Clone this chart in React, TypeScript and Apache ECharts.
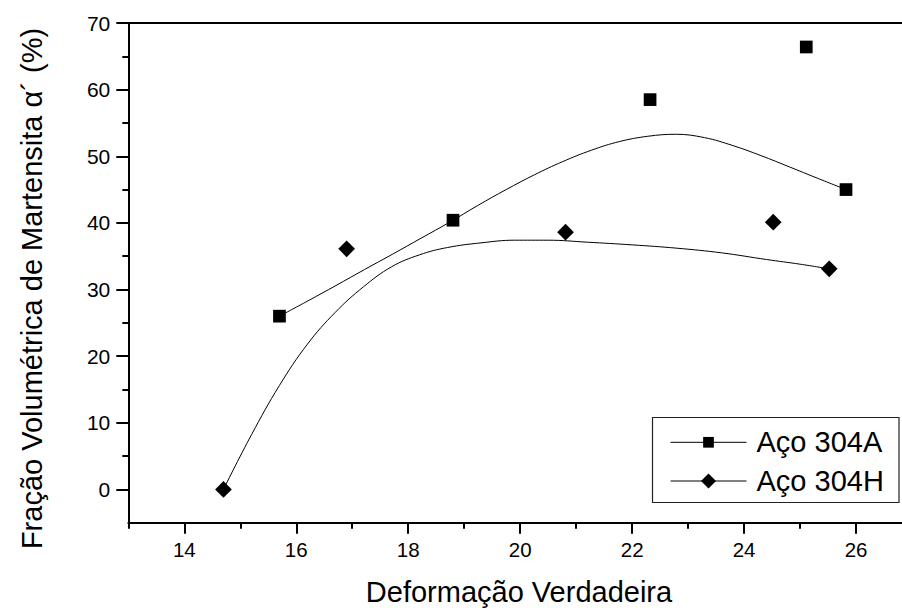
import React, { useEffect, useRef } from "react";
import * as echarts from "echarts";

// Measured points
const aco304A_x = [15.7, 18.8, 22.32, 25.11, 25.82];
const aco304A_y = [26.0, 40.4, 58.5, 66.4, 45.0];
const aco304H_x = [14.7, 16.9, 20.81, 24.52, 25.52];
const aco304H_y = [0.0, 36.1, 38.6, 40.1, 33.1];

// Fitted curves
const fitA_x = [15.7, 16.21, 16.71, 17.22, 17.72, 18.23, 18.74, 19.24, 19.75, 20.25, 20.76, 21.27, 21.77, 22.28, 22.78, 23.29, 23.8, 24.3, 24.81, 25.31, 25.82];
const fitA_y = [26.0, 28.3, 30.6, 33.0, 35.3, 37.7, 40.1, 42.6, 45.0, 47.2, 49.2, 50.9, 52.2, 53.0, 53.3, 52.8, 51.6, 50.1, 48.4, 46.7, 45.0];
const fitH_x = [14.7, 15.2, 15.7, 16.2, 16.7, 17.2, 17.7, 18.2, 18.7, 19.3, 19.9, 20.5, 21.2, 22.0, 22.8, 23.6, 24.4, 25.0, 25.52];
const fitH_y = [0.0, 8.2, 15.6, 21.8, 26.6, 30.4, 33.4, 35.2, 36.3, 37.0, 37.4, 37.4, 37.1, 36.7, 36.2, 35.5, 34.5, 33.8, 33.1];

// Axis ticks
const xMajor = [14, 16, 18, 20, 22, 24, 26];
const xMinor = [13, 15, 17, 19, 21, 23, 25];
const yMajor = [0, 10, 20, 30, 40, 50, 60, 70];
const yMinor = [5, 15, 25, 35, 45, 55, 65];

const FONT = "'Liberation Sans', Arial, sans-serif";

const zip = (xs: number[], ys: number[]) => xs.map((x, i) => [x, ys[i]]);

export default function App() {
  const ref = useRef<HTMLDivElement>(null);
  useEffect(() => {
    if (!ref.current) return;
    const chart = echarts.init(ref.current, undefined, { renderer: "svg" });
    const X_MIN = 13;
    const X_MAX = 26.82;
    const Y_MIN = -5;
    const Y_MAX = 70;
    const axisLine = { show: true, onZero: false, lineStyle: { color: "#000", width: 2 } };
    const noLine = { show: false, onZero: false };
    chart.setOption({
      animation: false,
      backgroundColor: "#fff",
      grid: { left: 128.3, right: 0, top: 23, bottom: 85.3, outerBoundsMode: "none" },
      xAxis: [
        {
          type: "value", position: "bottom", min: X_MIN, max: X_MAX,
          axisLine,
          axisTick: { show: true, length: 11, customValues: xMajor, lineStyle: { color: "#000", width: 2 } },
          axisLabel: { customValues: xMajor, fontSize: 20.5, color: "#000", fontFamily: FONT, margin: 16 },
          splitLine: { show: false },
        },
        {
          type: "value", position: "top", min: X_MIN, max: X_MAX,
          axisLine, axisTick: { show: false }, axisLabel: { show: false }, splitLine: { show: false },
        },
        {
          type: "value", position: "bottom", min: X_MIN, max: X_MAX, offset: 0,
          axisLine: noLine,
          axisTick: { show: true, length: 6, customValues: xMinor, lineStyle: { color: "#000", width: 2 } },
          axisLabel: { show: false }, splitLine: { show: false },
        },
      ],
      yAxis: [
        {
          type: "value", position: "left", min: Y_MIN, max: Y_MAX,
          axisLine,
          axisTick: { show: true, length: 12, customValues: yMajor, lineStyle: { color: "#000", width: 2 } },
          axisLabel: { customValues: yMajor, fontSize: 21, color: "#000", fontFamily: FONT, margin: 18 },
          splitLine: { show: false },
        },
        {
          type: "value", position: "left", min: Y_MIN, max: Y_MAX, offset: 0,
          axisLine: noLine,
          axisTick: { show: true, length: 6, customValues: yMinor, lineStyle: { color: "#000", width: 2 } },
          axisLabel: { show: false }, splitLine: { show: false },
        },
      ],
      legend: [
        {
          data: ["Aço 304A"], orient: "vertical", left: 670, top: 427.8, padding: 0,
          itemWidth: 76, itemHeight: 13.4,
          textStyle: { fontSize: 29, color: "#000", fontFamily: FONT, padding: [0, 0, 0, 5] },
          lineStyle: { color: "#000", width: 1, opacity: 1 },
          itemStyle: { color: "#000" },
        },
        {
          data: ["Aço 304H"], orient: "vertical", left: 670, top: 466.5, padding: 0,
          itemWidth: 76, itemHeight: 18.7,
          textStyle: { fontSize: 29, color: "#000", fontFamily: FONT, padding: [0, 0, 0, 5] },
          lineStyle: { color: "#000", width: 1, opacity: 1 },
          itemStyle: { color: "#000" },
        },
      ],
      graphic: [
        {
          type: "rect", shape: { x: 652.5, y: 417.5, width: 246.5, height: 85 },
          style: { fill: "none", stroke: "#222", lineWidth: 1.2 }, z: 10,
        },
        {
          type: "text", x: 519, y: 591.7,
          style: { text: "Deformação Verdadeira", fontSize: 29, fontFamily: FONT, fill: "#000", align: "center", verticalAlign: "middle" },
        },
        {
          type: "text", x: 32, y: 288.5, rotation: Math.PI / 2,
          style: { text: "Fração Volumétrica de Martensita α´ (%)", fontSize: 29, fontFamily: FONT, fill: "#000", align: "center", verticalAlign: "middle" },
        },
      ],
      series: [
        {
          name: "fitA", type: "line", data: zip(fitA_x, fitA_y), showSymbol: false, symbol: "none",
          smooth: 0.4, lineStyle: { color: "#000", width: 1 }, z: 2, silent: true,
        },
        {
          name: "fitH", type: "line", data: zip(fitH_x, fitH_y), showSymbol: false, symbol: "none",
          smooth: 0.4, lineStyle: { color: "#000", width: 1 }, z: 2, silent: true,
        },
        {
          name: "Aço 304A", type: "line", data: zip(aco304A_x, aco304A_y), symbol: "rect", symbolSize: 12.7,
          showSymbol: true, lineStyle: { color: "#000", width: 1, opacity: 0 }, itemStyle: { color: "#000" }, z: 5,
        },
        {
          name: "Aço 304H", type: "line", data: zip(aco304H_x, aco304H_y), symbol: "diamond", symbolSize: 16.7,
          showSymbol: true, lineStyle: { color: "#000", width: 1, opacity: 0 }, itemStyle: { color: "#000" }, z: 5,
        },
      ],
    });
    return () => chart.dispose();
  }, []);
  return <div ref={ref} style={{ position: "absolute", left: 0, top: 0, width: 902, height: 608 }} />;
}
